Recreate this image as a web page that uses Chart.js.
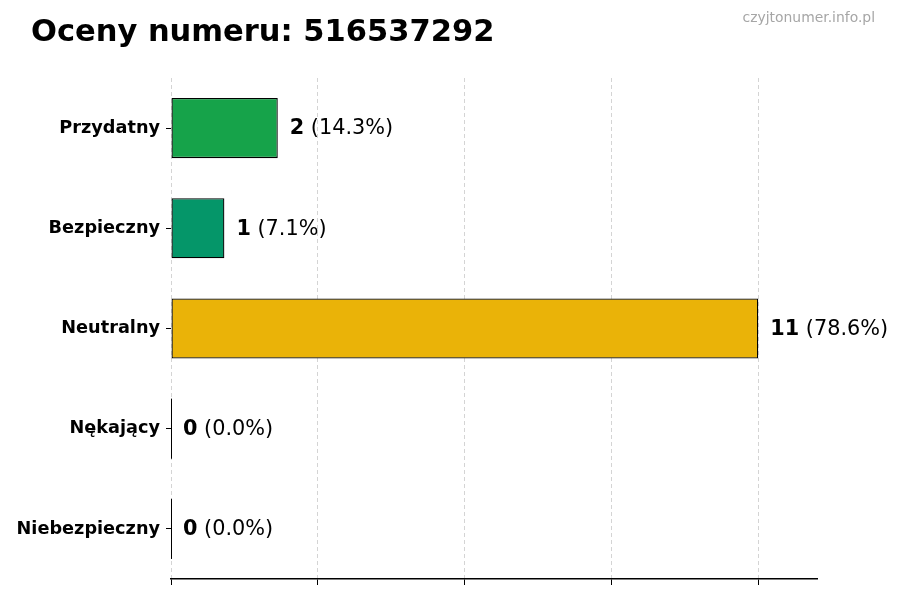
<!DOCTYPE html>
<html>
<head>
<meta charset="utf-8">
<script src="https://cdn.jsdelivr.net/npm/chart.js@4.4.0/dist/chart.umd.min.js"></script>
<style>
html,body{margin:0;padding:0;background:#fff;}
#wrap{width:900px;height:600px;position:relative;}
</style>
</head>
<body>
<div id="wrap"><canvas id="c" width="900" height="600"></canvas></div>
<script>
const titleText = 'Oceny numeru: 516537292';
const watermark = 'czyjtonumer.info.pl';
const categories = ['Przydatny', 'Bezpieczny', 'Neutralny', 'Nękający', 'Niebezpieczny'];
const counts = [2, 1, 11, 0, 0];
const barColors = ['#16a34a', '#059669', '#eab308', '#dc2626', '#991b1b'];
const xTicks = [0, 2.75, 5.5, 8.25, 11];
const xMax = 12.1;

const FONT = "'DejaVu Sans', sans-serif";
const total = counts.reduce((a, b) => a + b, 0);

const decor = {
  id: 'decor',
  afterDatasetsDraw(chart) {
    const ctx = chart.ctx;
    const meta = chart.getDatasetMeta(0);
    ctx.save();
    meta.data.forEach((el, i) => {
      const v = counts[i];
      if (v === 0) {
        const bx = Math.round(el.base) + 0.5;
        ctx.strokeStyle = '#000';
        ctx.lineWidth = 1;
        ctx.beginPath();
        ctx.moveTo(bx, el.y - el.height / 2);
        ctx.lineTo(bx, el.y + el.height / 2);
        ctx.stroke();
      }
      const pct = total ? (v / total * 100).toFixed(1) : '0.0';
      let x = el.x + 12;
      const y = el.y + 1;
      ctx.textBaseline = 'middle';
      ctx.textAlign = 'left';
      ctx.fillStyle = '#000';
      ctx.font = 'bold 20.8px ' + FONT;
      const bold = String(v);
      ctx.fillText(bold, x, y);
      x += ctx.measureText(bold).width;
      ctx.font = '20.8px ' + FONT;
      ctx.fillText(' (' + pct + '%)', x, y);
    });
    ctx.restore();
  },
  afterDraw(chart) {
    const ctx = chart.ctx;
    ctx.save();
    ctx.fillStyle = '#000';
    ctx.textAlign = 'left';
    ctx.textBaseline = 'alphabetic';
    ctx.font = 'bold 30.5px ' + FONT;
    ctx.fillText(titleText, 31, 41);
    ctx.fillStyle = '#a6a6a6';
    ctx.textAlign = 'right';
    ctx.font = '13.9px ' + FONT;
    ctx.fillText(watermark, 875, 22);
    ctx.restore();
  }
};

new Chart(document.getElementById('c'), {
  type: 'bar',
  data: {
    labels: categories,
    datasets: [{
      data: counts,
      backgroundColor: barColors,
      borderColor: '#000',
      borderWidth: 1.3,
      borderSkipped: false,
      barPercentage: 0.6,
      categoryPercentage: 1.0
    }]
  },
  options: {
    indexAxis: 'y',
    responsive: false,
    animation: false,
    devicePixelRatio: 1,
    layout: { padding: { top: 78, right: 83, bottom: 0, left: 0 } },
    plugins: {
      legend: { display: false },
      tooltip: { enabled: false },
      title: { display: false }
    },
    scales: {
      x: {
        min: 0,
        max: xMax,
        afterBuildTicks: s => { s.ticks = xTicks.map(v => ({ value: v })); },
        afterFit: s => { s.height = 21; },
        ticks: { display: false },
        grid: {
          color: '#d4d4d4',
          lineWidth: 1,
          drawTicks: true,
          tickLength: 6,
          tickColor: '#000',
          tickWidth: 1
        },
        border: { display: true, color: '#000', width: 1.5, dash: [4, 3] }
      },
      y: {
        afterFit: s => { s.width = 171; },
        ticks: {
          color: '#000',
          padding: 6,
          font: { family: FONT, size: 17.7, weight: 'bold' }
        },
        grid: {
          offset: false,
          drawOnChartArea: false,
          drawTicks: true,
          tickLength: 5,
          tickColor: '#000',
          tickWidth: 1
        },
        border: { display: false }
      }
    }
  },
  plugins: [decor]
});
</script>
</body>
</html>
